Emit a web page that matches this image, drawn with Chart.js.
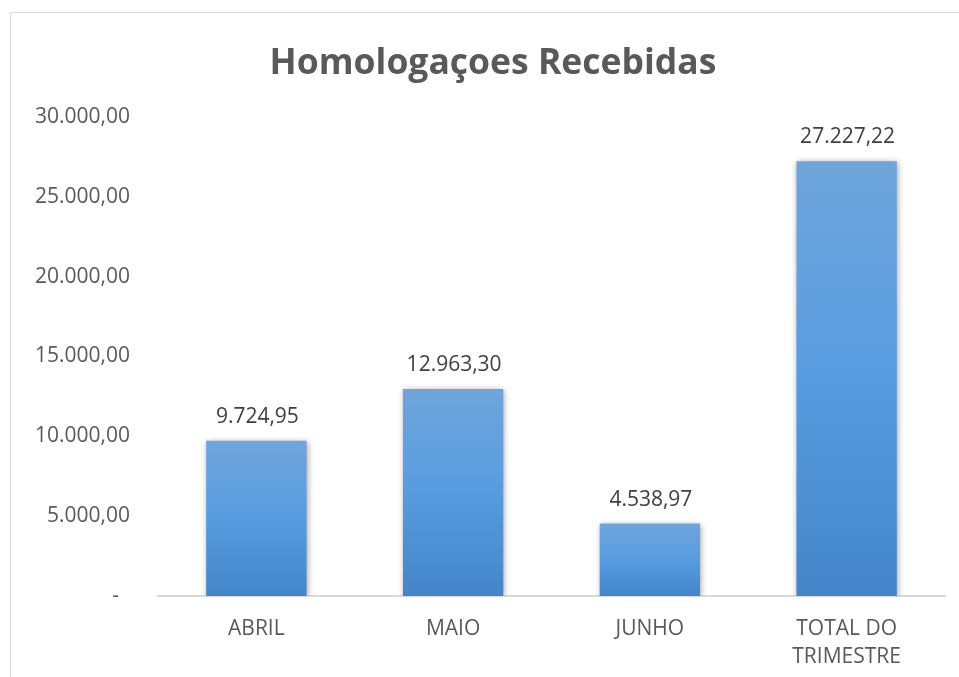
<!DOCTYPE html>
<html>
<head>
<meta charset="utf-8">
<script src="https://cdn.jsdelivr.net/npm/chart.js@4.4.1/dist/chart.umd.min.js"></script>
<style>
    html, body { margin: 0; padding: 0; background: #fff; overflow: hidden; }
    #frame { position: absolute; left: 10px; top: 12px; width: 1000px; height: 1000px; border: 1px solid #d9d9d9; }
    #wrap { position: absolute; left: 0; top: 0; width: 959px; height: 677px; }
</style>
</head>
<body>
<div id="frame"></div>
<div id="wrap"><canvas id="homologChart"></canvas></div>
<script>
// dados do gráfico
const titulo = 'Homologaçoes Recebidas';
const categorias = ['ABRIL', 'MAIO', 'JUNHO', ['TOTAL DO', 'TRIMESTRE']];
const valores = [9724.95, 12963.30, 4538.97, 27227.22];
const ticksY = [0, 5000, 10000, 15000, 20000, 25000, 30000];

const fmt = new Intl.NumberFormat('pt-BR', { minimumFractionDigits: 2, maximumFractionDigits: 2 });
const FONTE = "'Open Sans', 'Noto Sans', sans-serif";

function gradienteBarra(context) {
    const chart = context.chart;
    if (!chart.chartArea || !chart.scales.y) return '#5b9bd5';
    const y = chart.scales.y;
    const topo = y.getPixelForValue(context.raw);
    const base = y.getPixelForValue(0);
    const g = chart.ctx.createLinearGradient(0, topo, 0, base);
    g.addColorStop(0, '#6fa5dc');
    g.addColorStop(0.5, '#579ce0');
    g.addColorStop(1, '#4385c8');
    return g;
}

// sombra das barras, rótulos de dados e título (centrado no quadro, não no canvas)
const barExtras = {
    id: 'barExtras',
    beforeDatasetsDraw(chart) {
        const ctx = chart.ctx;
        ctx.save();
        ctx.shadowColor = 'rgba(0, 0, 0, 0.35)';
        ctx.shadowBlur = 6;
        ctx.shadowOffsetX = 1;
        ctx.shadowOffsetY = 1;
    },
    afterDatasetsDraw(chart) {
        const ctx = chart.ctx;
        ctx.restore();
        ctx.save();
        ctx.font = '21px ' + FONTE;
        ctx.fillStyle = '#404040';
        ctx.textAlign = 'center';
        ctx.textBaseline = 'alphabetic';
        chart.getDatasetMeta(0).data.forEach((bar, i) => {
            ctx.fillText(fmt.format(valores[i]), bar.x + 1, bar.y - 18);
        });

        ctx.font = 'bold 35.5px ' + FONTE;
        ctx.fillStyle = '#595959';
        ctx.fillText(titulo, 493, 74);
        ctx.restore();
    }
};

function initializeChart() {
    const ctx = document.getElementById('homologChart');
    new Chart(ctx, {
        type: 'bar',
        data: {
            labels: categorias,
            datasets: [{
                data: valores,
                backgroundColor: gradienteBarra,
                borderWidth: 0,
                categoryPercentage: 1,
                barPercentage: 0.51
            }]
        },
        options: {
            responsive: true,
            maintainAspectRatio: false,
            animation: false,
            layout: { padding: { left: 0, right: 14, top: 117, bottom: 0 } },
            plugins: {
                legend: { display: false },
                tooltip: { enabled: false },
                title: { display: false }
            },
            scales: {
                x: {
                    grid: { display: false },
                    border: { display: true, color: '#d9d9d9', width: 2 },
                    ticks: {
                        color: '#595959',
                        font: { family: FONTE, size: 21, lineHeight: 1.33 },
                        padding: 11,
                        maxRotation: 0
                    },
                    afterFit: s => { s.height = 81; }
                },
                y: {
                    min: 0,
                    max: 30000,
                    grid: { display: false },
                    border: { display: false },
                    afterBuildTicks: s => { s.ticks = ticksY.map(v => ({ value: v })); },
                    ticks: {
                        color: '#595959',
                        font: { family: FONTE, size: 21 },
                        padding: 20,
                        callback: v => v === 0 ? '-  ' : fmt.format(v)
                    },
                    afterFit: s => { s.width = 158; }
                }
            }
        },
        plugins: [barExtras]
    });
}

if (document.readyState === 'loading') {
    document.addEventListener('DOMContentLoaded', initializeChart);
} else {
    initializeChart();
}
</script>
</body>
</html>
